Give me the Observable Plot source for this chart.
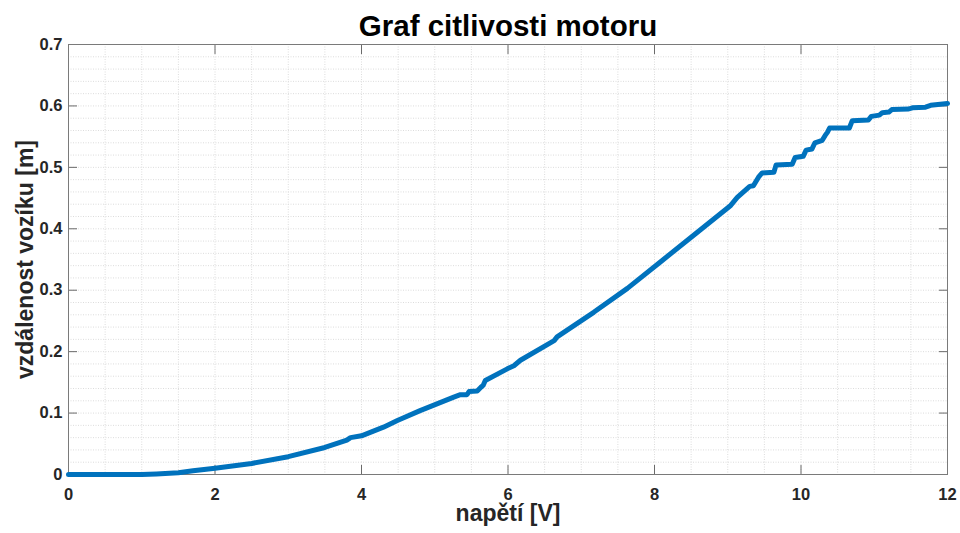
<!DOCTYPE html>
<html><head><meta charset="utf-8">
<script src="https://cdn.jsdelivr.net/npm/d3@7"></script>
<script src="https://cdn.jsdelivr.net/npm/@observablehq/plot@0.6"></script>
<style>body{margin:0;background:#fff}</style>
</head><body><div id="chart"></div>
<script>
const title = "Graf citlivosti motoru";
const xLabel = "napětí [V]";
const yLabel = "vzdálenost vozíku [m]";

const voltage = [0, 0.5, 1.0, 1.2, 1.5, 1.7, 2.0, 2.5, 3.0, 3.5, 3.8, 3.85, 4.0, 4.3, 4.49, 4.8,
  5.26, 5.35, 5.44, 5.47, 5.58, 5.63, 5.66, 5.69, 5.99, 6.08, 6.17, 6.63, 6.67, 7.17, 7.63,
  8.08, 8.56, 9.04, 9.13, 9.30, 9.35, 9.42, 9.47, 9.63, 9.66, 9.88, 9.92, 10.03, 10.07,
  10.15, 10.19, 10.29, 10.33, 10.36, 10.39, 10.66, 10.70, 10.92, 10.96, 11.07, 11.11,
  11.20, 11.24, 11.47, 11.52, 11.70, 11.77, 12.0];
const distance = [0, 0, 0, 0.001, 0.003, 0.006, 0.010, 0.018, 0.029, 0.044, 0.056, 0.060, 0.063, 0.077, 0.088, 0.104,
  0.126, 0.130, 0.130, 0.135, 0.136, 0.142, 0.145, 0.153, 0.172, 0.177, 0.186, 0.218, 0.224, 0.264, 0.303,
  0.346, 0.392, 0.438, 0.451, 0.469, 0.470, 0.484, 0.491, 0.492, 0.504, 0.505, 0.516, 0.518, 0.528,
  0.530, 0.540, 0.544, 0.552, 0.557, 0.564, 0.564, 0.576, 0.577, 0.583, 0.585, 0.589,
  0.590, 0.594, 0.595, 0.597, 0.598, 0.601, 0.604];

const xTicks = [0, 2, 4, 6, 8, 10, 12];
const yTicks = [0, 0.1, 0.2, 0.3, 0.4, 0.5, 0.6, 0.7];
const xMinor = d3.range(0, 12.001, 0.5);
const yMinor = d3.range(0, 0.7001, 0.02);

const data = voltage.map((v, i) => ({v, d: distance[i]}));

const bold = {fontSize: 16.5, fontWeight: "bold", fill: "#262626"};

const plot = Plot.plot({
  width: 960, height: 533,
  marginTop: 44, marginRight: 13, marginBottom: 59, marginLeft: 68,
  style: {fontFamily: "'Liberation Sans', Arial, sans-serif", background: "#fff", color: "#262626", overflow: "visible"},
  x: {domain: [0, 12]},
  y: {domain: [0, 0.7]},
  marks: [
    Plot.gridX(xMinor, {stroke: "#dcdcdc", strokeOpacity: 1, strokeDasharray: "1,1.5"}),
    Plot.gridY(yMinor, {stroke: "#dcdcdc", strokeOpacity: 1, strokeDasharray: "1,1.5"}),
    Plot.axisX(xTicks, {anchor: "bottom", tickSize: 0, tickPadding: 14, label: null, tickFormat: d => String(d), ...bold}),
    Plot.axisX(xTicks, {anchor: "bottom", tickSize: -9, tickFormat: () => "", label: null, stroke: "#6a6a6a"}),
    Plot.axisX(xTicks, {anchor: "top", tickSize: -9, tickFormat: () => "", label: null, stroke: "#6a6a6a"}),
    Plot.axisY(yTicks, {anchor: "left", tickSize: 0, tickPadding: 6, label: null, tickFormat: d => String(+d.toFixed(1)), ...bold}),
    Plot.axisY(yTicks, {anchor: "left", tickSize: -9, tickFormat: () => "", label: null, stroke: "#6a6a6a"}),
    Plot.axisY(yTicks, {anchor: "right", tickSize: -9, tickFormat: () => "", label: null, stroke: "#6a6a6a"}),
    Plot.frame({stroke: "#7a7a7a", strokeWidth: 1}),
    Plot.line(data, {x: "v", y: "d", stroke: "#0072BD", strokeWidth: 5, strokeLinejoin: "round"}),
    Plot.text([title], {text: d => d, frameAnchor: "top", lineAnchor: "middle", textAnchor: "middle", dy: -18, fontSize: 29.5, fontWeight: "bold", fill: "#000"}),
    Plot.text([xLabel], {text: d => d, frameAnchor: "bottom", lineAnchor: "middle", textAnchor: "middle", dy: 39, fontSize: 23, fontWeight: "bold", fill: "#262626"}),
    Plot.text([yLabel], {text: d => d, frameAnchor: "left", lineAnchor: "middle", textAnchor: "middle", dx: -43, rotate: -90, fontSize: 23, fontWeight: "bold", fill: "#262626"})
  ]
});
document.getElementById("chart").appendChild(plot);
</script>
</body></html>
